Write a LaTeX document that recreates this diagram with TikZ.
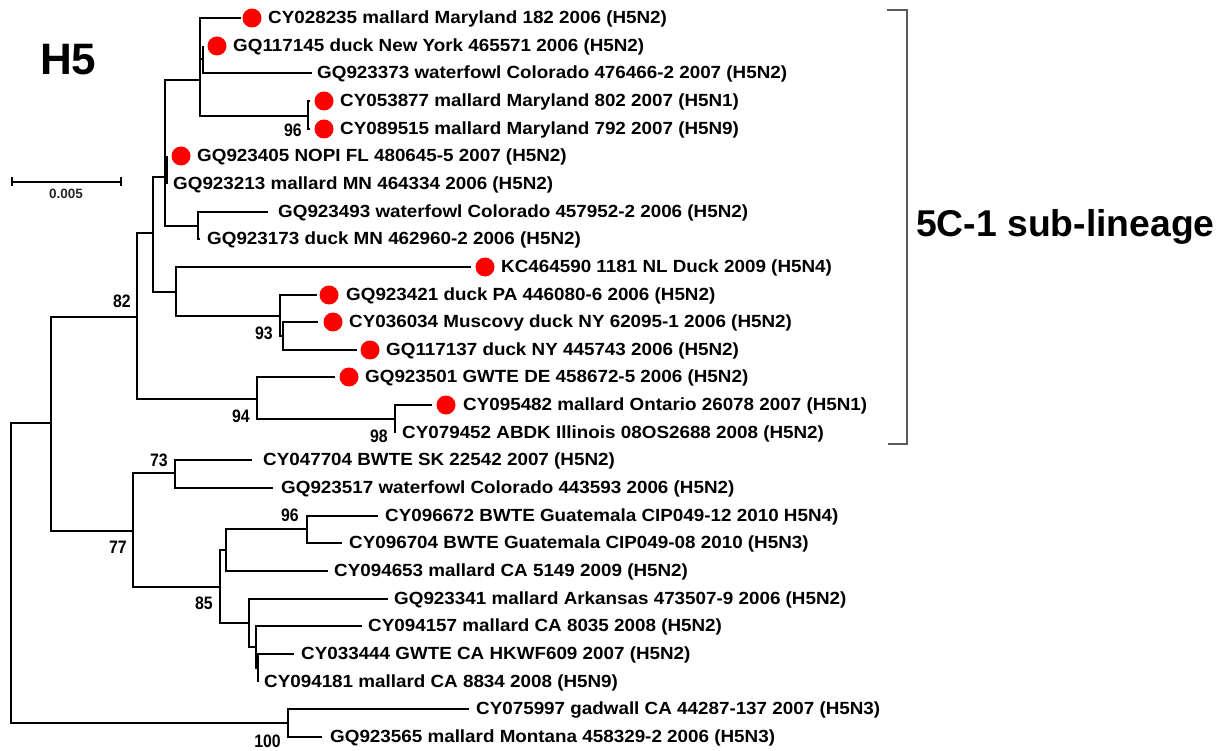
\documentclass[tikz,border=0pt]{standalone}
\usepackage{fontspec}
\newfontfamily\leaffont{Liberation Sans Bold}[FakeStretch=1.07]
\newfontfamily\suppfont{Liberation Sans Bold}[FakeStretch=0.88]
\newfontfamily\headfont{Liberation Sans Bold}
\begin{document}
\begin{tikzpicture}[x=1pt,y=-1pt,
  br/.style={line width=2pt, line join=miter},
  leaf/.style={font=\leaffont\fontsize{17.6}{20}\selectfont, anchor=base west, inner sep=0pt},
  supp/.style={font=\suppfont\fontsize{18}{20}\selectfont, anchor=base east, inner sep=0pt},
  dotm/.style={circle, fill=red, draw=none, inner sep=0pt, minimum size=19pt}]
\useasboundingbox[fill=white] (0,0) rectangle (1223,751);
% internal nodes
\coordinate (R) at (11,573);
\coordinate (n52) at (51,423);
\coordinate (n82) at (137,317);
\coordinate (n153) at (153,233);
\coordinate (n165) at (165,177);
\coordinate (nA) at (200,80);
\coordinate (nA2) at (203,59);
\coordinate (n96a) at (308,116);
\coordinate (nB2) at (167,170);
\coordinate (n198) at (198,226);
\coordinate (n176) at (176,292);
\coordinate (n93) at (280,316);
\coordinate (n93b) at (283,336);
\coordinate (n94) at (257,399);
\coordinate (n98) at (395,419);
\coordinate (n77) at (133,531);
\coordinate (n73) at (175,473);
\coordinate (n85) at (220,587);
\coordinate (nup) at (226,550);
\coordinate (n96b) at (307,529);
\coordinate (nlo) at (249,623);
\coordinate (nlo2) at (256,647);
\coordinate (nlo3) at (258,668);
\coordinate (n100) at (288,723);
% leaf tips
\coordinate (e1) at (241,18);
\coordinate (e2) at (203,46);
\coordinate (e3) at (312,73);
\coordinate (e4) at (310,101);
\coordinate (e5) at (310,129);
\coordinate (e6) at (167,156);
\coordinate (e7) at (167,184);
\coordinate (e8) at (268,212);
\coordinate (e9) at (200,239);
\coordinate (e10) at (471,267);
\coordinate (e11) at (317,295);
\coordinate (e12) at (318,322);
\coordinate (e13) at (357,350);
\coordinate (e14) at (335,377);
\coordinate (e15) at (432,405);
\coordinate (e16) at (395,433);
\coordinate (e17) at (252,460);
\coordinate (e18) at (273,488);
\coordinate (e19) at (378,516);
\coordinate (e20) at (342,543);
\coordinate (e21) at (328,571);
\coordinate (e22) at (388,599);
\coordinate (e23) at (362,626);
\coordinate (e24) at (294,654);
\coordinate (e25) at (258,682);
\coordinate (e26) at (469,709);
\coordinate (e27) at (322,737);
% branches
\draw[br] (R) |- (n52);
\draw[br] (R) |- (n100);
\draw[br] (n52) |- (n82);
\draw[br] (n52) |- (n77);
\draw[br] (n82) |- (n153);
\draw[br] (n82) |- (n94);
\draw[br] (n153) |- (n165);
\draw[br] (n153) |- (n176);
\draw[br] (n165) |- (nA);
\draw[br] (n165) |- (nB2);
\draw[br] (n165) |- (n198);
\draw[br] (nA) |- (e1);
\draw[br] (nA) |- (nA2);
\draw[br] (nA) |- (n96a);
\draw[br] (nA2) |- (e2);
\draw[br] (nA2) |- (e3);
\draw[br] (n96a) |- (e4);
\draw[br] (n96a) |- (e5);
\draw[br] (nB2) |- (e6);
\draw[br] (nB2) |- (e7);
\draw[br] (n198) |- (e8);
\draw[br] (n198) |- (e9);
\draw[br] (n176) |- (e10);
\draw[br] (n176) |- (n93);
\draw[br] (n93) |- (e11);
\draw[br] (n93) |- (n93b);
\draw[br] (n93b) |- (e12);
\draw[br] (n93b) |- (e13);
\draw[br] (n94) |- (e14);
\draw[br] (n94) |- (n98);
\draw[br] (n98) |- (e15);
\draw[br] (n98) |- (e16);
\draw[br] (n77) |- (n73);
\draw[br] (n77) |- (n85);
\draw[br] (n73) |- (e17);
\draw[br] (n73) |- (e18);
\draw[br] (n85) |- (nup);
\draw[br] (n85) |- (nlo);
\draw[br] (nup) |- (n96b);
\draw[br] (nup) |- (e21);
\draw[br] (n96b) |- (e19);
\draw[br] (n96b) |- (e20);
\draw[br] (nlo) |- (e22);
\draw[br] (nlo) |- (nlo2);
\draw[br] (nlo2) |- (e23);
\draw[br] (nlo2) |- (nlo3);
\draw[br] (nlo3) |- (e24);
\draw[br] (nlo3) |- (e25);
\draw[br] (n100) |- (e26);
\draw[br] (n100) |- (e27);
% red dots
\node[dotm] (d1) at (252,18) {};
\node[dotm] (d2) at (217,46) {};
\node[dotm] (d4) at (324,101) {};
\node[dotm] (d5) at (324,129) {};
\node[dotm] (d6) at (181,156) {};
\node[dotm] (d10) at (485,267) {};
\node[dotm] (d11) at (329,295) {};
\node[dotm] (d12) at (333,322) {};
\node[dotm] (d13) at (370,350) {};
\node[dotm] (d14) at (349,377) {};
\node[dotm] (d15) at (446,405) {};
% leaf labels
\node[leaf] (t1) at (268,23.5) {CY028235 mallard Maryland 182 2006 (H5N2)};
\node[leaf] (t2) at (233,51.5) {GQ117145 duck New York 465571 2006 (H5N2)};
\node[leaf] (t3) at (317,78.5) {GQ923373 waterfowl Colorado 476466-2 2007 (H5N2)};
\node[leaf] (t4) at (340,106.5) {CY053877 mallard Maryland 802 2007 (H5N1)};
\node[leaf] (t5) at (340,134.5) {CY089515 mallard Maryland 792 2007 (H5N9)};
\node[leaf] (t6) at (197,161.5) {GQ923405 NOPI FL 480645-5 2007 (H5N2)};
\node[leaf] (t7) at (173,189.5) {GQ923213 mallard MN 464334 2006 (H5N2)};
\node[leaf] (t8) at (278,217.5) {GQ923493 waterfowl Colorado 457952-2 2006 (H5N2)};
\node[leaf] (t9) at (207,244.5) {GQ923173 duck MN 462960-2 2006 (H5N2)};
\node[leaf] (t10) at (501,272.5) {KC464590 1181 NL Duck 2009 (H5N4)};
\node[leaf] (t11) at (346,300.5) {GQ923421 duck PA 446080-6 2006 (H5N2)};
\node[leaf] (t12) at (349,327.5) {CY036034 Muscovy duck NY 62095-1 2006 (H5N2)};
\node[leaf] (t13) at (386,355.5) {GQ117137 duck NY 445743 2006 (H5N2)};
\node[leaf] (t14) at (365,382.5) {GQ923501 GWTE DE 458672-5 2006 (H5N2)};
\node[leaf] (t15) at (463,410.5) {CY095482 mallard Ontario 26078 2007 (H5N1)};
\node[leaf] (t16) at (402,438.5) {CY079452 ABDK Illinois 08OS2688 2008 (H5N2)};
\node[leaf] (t17) at (263,465.5) {CY047704 BWTE SK 22542 2007 (H5N2)};
\node[leaf] (t18) at (281,493.5) {GQ923517 waterfowl Colorado 443593 2006 (H5N2)};
\node[leaf] (t19) at (385,521.5) {CY096672 BWTE Guatemala CIP049-12 2010 H5N4)};
\node[leaf] (t20) at (349,548.5) {CY096704 BWTE Guatemala CIP049-08 2010 (H5N3)};
\node[leaf] (t21) at (334,576.5) {CY094653 mallard CA 5149 2009 (H5N2)};
\node[leaf] (t22) at (394,604.5) {GQ923341 mallard Arkansas 473507-9 2006 (H5N2)};
\node[leaf] (t23) at (368,631.5) {CY094157 mallard CA 8035 2008 (H5N2)};
\node[leaf] (t24) at (301,659.5) {CY033444 GWTE CA HKWF609 2007 (H5N2)};
\node[leaf] (t25) at (264,687.5) {CY094181 mallard CA 8834 2008 (H5N9)};
\node[leaf] (t26) at (476,714.5) {CY075997 gadwall CA 44287-137 2007 (H5N3)};
\node[leaf] (t27) at (330,742.5) {GQ923565 mallard Montana 458329-2 2006 (H5N3)};
% support values
\node[supp] (s96a) at (302,137) {96};
\node[supp] (s82) at (131,307) {82};
\node[supp] (s93) at (273,339) {93};
\node[supp] (s94) at (250,422) {94};
\node[supp] (s98) at (388,442) {98};
\node[supp] (s73) at (168,466) {73};
\node[supp] (s77) at (127,553) {77};
\node[supp] (s96b) at (299,521) {96};
\node[supp] (s85) at (213,609) {85};
\node[supp] (s100) at (281,747) {100};
% heading
\node[font=\headfont\fontsize{44}{48}\selectfont, anchor=base west, inner sep=0pt] (h5) at (40,75) {H5};
% scale bar
\coordinate (sb1) at (12,182);
\coordinate (sb2) at (121,182);
\draw[line width=2pt] (sb1) -- (sb2);
\draw[line width=2pt] ([yshift=-4.5pt]sb1) -- ([yshift=4.5pt]sb1);
\draw[line width=2pt] ([yshift=-4.5pt]sb2) -- ([yshift=4.5pt]sb2);
\node[font=\headfont\fontsize{13.5}{15}\selectfont, anchor=base, inner sep=0pt, text=black!85] (sbl) at (66,199) {0.005};
% bracket
\coordinate (bt1) at (887,10);
\coordinate (bt2) at (907,10);
\coordinate (bb2) at (907,444);
\coordinate (bb1) at (888,444);
\draw[line width=1.3pt, black!65] (bt1) -- (bt2) -- (bb2) -- (bb1);
\node[font=\headfont\fontsize{37.3}{40}\selectfont, anchor=base west, inner sep=0pt] (clade) at (916,237) {5C-1 sub-lineage};
\end{tikzpicture}
\end{document}
